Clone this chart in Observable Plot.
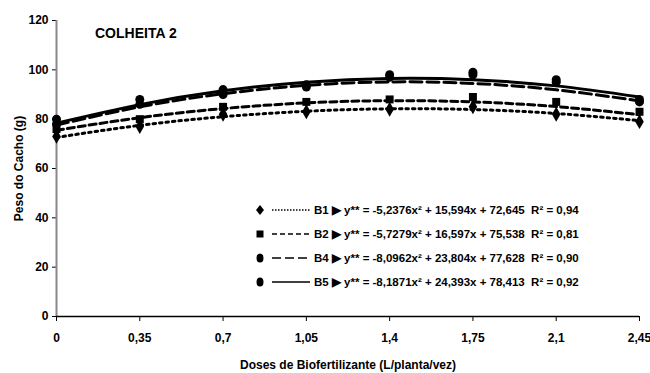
<!DOCTYPE html>
<html><head><meta charset="utf-8">
<script src="https://cdn.jsdelivr.net/npm/d3@7"></script>
<script src="https://cdn.jsdelivr.net/npm/@observablehq/plot@0.6"></script>
<style>
body{margin:0;background:#fff;}
#wrap{position:relative;width:650px;height:373px;font-family:"Liberation Sans Narrow","Liberation Sans",Arial,sans-serif;font-weight:bold;color:#000;}
#title{position:absolute;left:95px;top:25px;font-size:14px;}
#legend{position:absolute;left:254px;top:198px;font-size:11.5px;}
.row{height:24px;display:flex;align-items:center;white-space:pre;}
.row svg{display:block;}
</style></head>
<body><div id="wrap"><div id="title">COLHEITA 2</div><div id="legend"></div></div>
<script>
const doses = [0, 0.35, 0.7, 1.05, 1.4, 1.75, 2.1, 2.45];
const doseLabels = ["0", "0,35", "0,7", "1,05", "1,4", "1,75", "2,1", "2,45"];
const yTicks = [0, 20, 40, 60, 80, 100, 120];
const series = ["B1", "B2", "B4", "B5"];
const obsB1 = [73, 77, 82, 83, 84, 85, 82, 79];
const obsB2 = [76, 80, 85, 87, 88, 89, 87, 83];
const obsB4 = [78, 86, 90, 93, 97, 98, 95, 87];
const obsB5 = [80, 88, 92, 94, 98, 99, 96, 88];
// fitted curves
const fitB1 = [72.6, 77.5, 81.0, 83.2, 84.2, 83.9, 82.3, 79.4];
const fitB2 = [75.5, 80.6, 84.3, 86.6, 87.5, 87.0, 85.1, 81.8];
const fitB4 = [77.6, 85.0, 90.3, 93.7, 95.1, 94.5, 91.9, 87.4];
const fitB5 = [78.4, 85.9, 91.5, 95.0, 96.5, 96.0, 93.5, 89.0];
const equations = [
  "y** = -5,2376x² + 15,594x + 72,645  R² = 0,94",
  "y** = -5,7279x² + 16,597x + 75,538  R² = 0,81",
  "y** = -8,0962x² + 23,804x + 77,628  R² = 0,90",
  "y** = -8,1871x² + 24,393x + 78,413  R² = 0,92"
];
const symbols = ["diamond", "square", "circle", "circle"];
const dashes = ["2.5,4", "7,4", "12,5", null];

const obs = [obsB1, obsB2, obsB4, obsB5];
const fit = [fitB1, fitB2, fitB4, fitB5];
const pts = [], curves = [];
series.forEach((s, i) => doses.forEach((d, j) => {
  pts.push({s, i, x: d, y: obs[i][j]});
  curves.push({s, i, x: d, y: fit[i][j]});
}));
const fmt = d => doseLabels[doses.indexOf(d)] ?? "";

const plot = Plot.plot({
  width: 650, height: 373,
  marginLeft: 56, marginRight: 11, marginTop: 20, marginBottom: 57,
  style: {fontFamily: '"Liberation Sans Narrow","Liberation Sans",Arial,sans-serif', fontWeight: "bold", fontSize: "12px", background: "#fff"},
  x: {domain: [0, 2.45]},
  y: {domain: [0, 120]},
  marks: [
    Plot.axisX({ticks: doses, tickFormat: fmt, tickSize: 5, tickPadding: 12, fontSize: 12,
      label: "Doses de Biofertilizante (L/planta/vez)", labelAnchor: "center", labelArrow: "none", labelOffset: 52}),
    Plot.axisY({ticks: yTicks, tickSize: 4, tickPadding: 4, fontSize: 12,
      label: "Peso do Cacho (g)", labelAnchor: "center", labelArrow: "none", labelOffset: 42}),
    Plot.ruleX([0], {stroke: "#888", strokeWidth: 2}),
    Plot.ruleY([0], {stroke: "#000", strokeWidth: 1.5}),
    ...series.map((s, i) => Plot.line(curves.filter(d => d.i === i), {
      x: "x", y: "y", curve: "natural", stroke: "#000", strokeWidth: 3,
      strokeDasharray: dashes[i] ?? undefined
    })),
    Plot.dot(pts, {x: "x", y: "y", symbol: d => symbols[d.i], fill: "#000", stroke: "none", r: 4.5})
  ]
});
document.getElementById("wrap").prepend(plot);

const leg = document.getElementById("legend");
const symPath = {
  diamond: "M6,2 L10,7 L6,12 L2,7 Z",
  square: "M2.5,3.5 H9.5 V10.5 H2.5 Z"
};
series.forEach((s, i) => {
  const row = document.createElement("div");
  row.className = "row";
  const sym = symbols[i] === "circle"
    ? '<ellipse cx="6" cy="7" rx="3.5" ry="4.5" fill="#000"/>'
    : `<path d="${symPath[symbols[i]]}" fill="#000"/>`;
  const dash = dashes[i] ? `stroke-dasharray="${dashes[i] === "2.5,4" ? "1.5,1.5" : dashes[i] === "7,4" ? "5,3" : "9,4"}"` : "";
  row.innerHTML = `<svg width="60" height="14">${sym}<line x1="18" x2="56" y1="7" y2="7" stroke="#000" stroke-width="1.5" ${dash}/></svg>` +
    `<span>${s} ▶ ${equations[i]}</span>`;
  leg.appendChild(row);
});
</script>
</body></html>
